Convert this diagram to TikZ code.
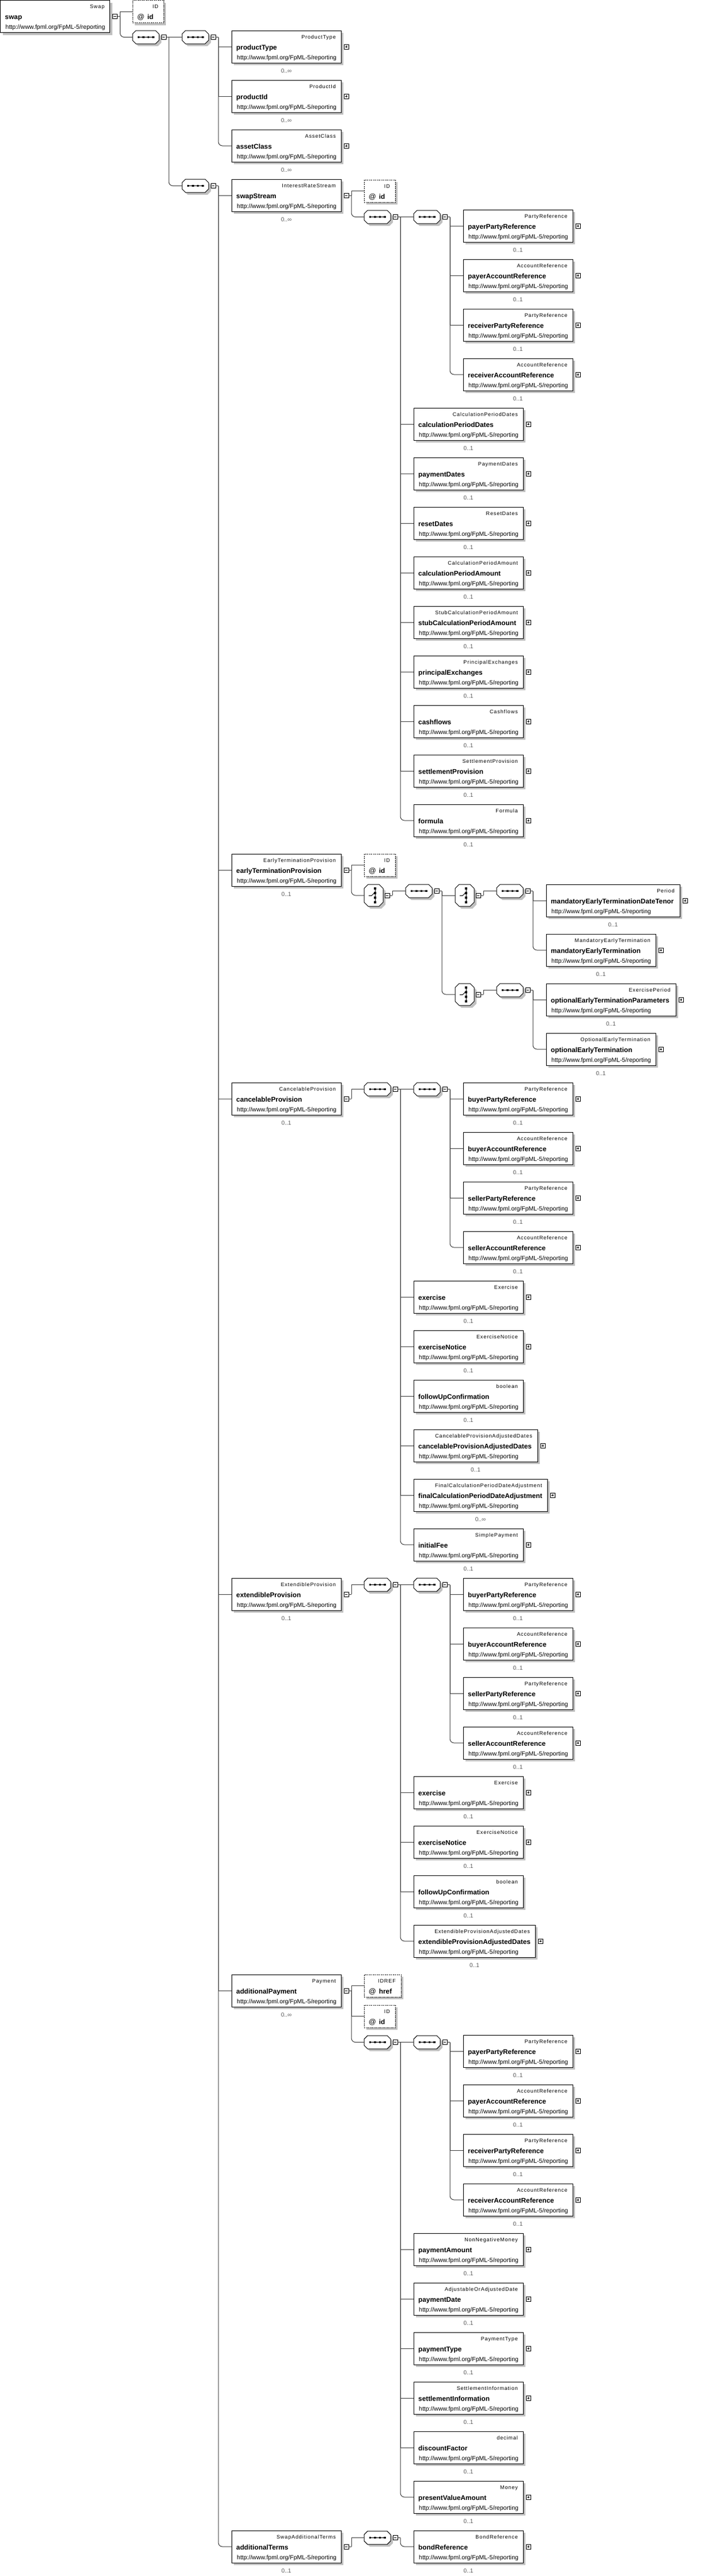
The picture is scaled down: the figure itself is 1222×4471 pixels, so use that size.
\documentclass[tikz,border=0pt]{standalone}
\usepackage{fontspec}
\setmainfont{Liberation Sans}
\newfontfamily\tyfont[LetterSpace=10]{Liberation Sans}
\definecolor{shadowc}{RGB}{192,192,192}
\definecolor{cardc}{RGB}{90,90,90}
\definecolor{linec}{RGB}{60,60,60}
\tikzset{
  ebox/.style={draw=black, line width=1pt, fill=white, inner sep=0pt, outer sep=0pt, minimum height=56pt, anchor=north west},
  abox/.style={draw=black, line width=1pt, fill=white, inner sep=0pt, outer sep=0pt, minimum height=39pt, anchor=north west, dash pattern=on 2pt off 1.5pt},
  tytext/.style={inner sep=0pt, anchor=base east, font=\tyfont\fontsize{9}{10}\selectfont},
  nmtext/.style={inner sep=0pt, anchor=base west, font=\bfseries\fontsize{11.8}{13}\selectfont},
  urltext/.style={inner sep=0pt, anchor=base west, font=\fontsize{10.5}{12}\selectfont},
  cardtext/.style={inner sep=0pt, anchor=base, text=cardc, font=\fontsize{10}{12}\selectfont},
  mbtn/.style={draw=black, line width=0.8pt, fill=white, minimum size=8pt, inner sep=0pt, outer sep=0pt,
    path picture={\draw[line width=0.8pt] ([xshift=1.8pt]path picture bounding box.west) -- ([xshift=-1.8pt]path picture bounding box.east);}},
  pbtn/.style={draw=black, line width=0.8pt, fill=white, minimum size=8pt, inner sep=0pt, outer sep=0pt,
    path picture={\draw[line width=0.8pt] ([xshift=1.8pt]path picture bounding box.west) -- ([xshift=-1.8pt]path picture bounding box.east);
                  \draw[line width=0.8pt] ([yshift=1.8pt]path picture bounding box.south) -- ([yshift=-1.8pt]path picture bounding box.north);}},
  conn/.style={draw=linec, line width=1pt},
  hub/.style={inner sep=0pt, outer sep=0pt, minimum width=46pt, minimum height=23pt, anchor=north west},
  chub/.style={inner sep=0pt, outer sep=0pt, minimum width=33pt, minimum height=38pt, anchor=north west},
}
\newcommand\urltxt{http://www.fpml.org/FpML-5/reporting}
% id, x, y, w, type, name, card, btn (p/m/n)
\newcommand\elem[8]{%
  \fill[shadowc] (#2+4,#3+4) rectangle ++(#4,56);
  \node[ebox, minimum width=#4pt] (#1) at (#2,#3) {};
  \node[tytext] (#1-t) at ([shift={(-9,14)}]#1.north east) {#5};
  \node[nmtext] (#1-n) at ([shift={(8,33)}]#1.north west) {#6};
  \node[urltext] (#1-u) at ([shift={(9,50)}]#1.north west) {\urltxt};
  \if\relax\detokenize{#7}\relax\else
    \node[cardtext] (#1-c) at ([shift={(0,73)}]#1.north) {#7};
  \fi
  \if n#8\else
    \node[#8btn] (#1-b) at ([shift={(9,28)}]#1.north east) {};
  \fi
}
% id, x, y, w, type, name
\newcommand\attr[6]{%
  \fill[shadowc] (#2+4,#3+4) rectangle ++(#4,39);
  \node[abox, minimum width=#4pt] (#1) at (#2,#3) {};
  \node[tytext] (#1-t) at ([shift={(-9,14)}]#1.north east) {#5};
  \node[nmtext] (#1-n) at ([shift={(8,33)}]#1.north west) {{\mdseries\fontsize{12.5}{13}\selectfont @}\hspace{5pt}#6};
}
% sequence compositor: id, x, y
\newcommand\seqn[3]{%
  \begin{scope}[shift={(#2,#3)}]
    \fill[shadowc] (10,4) -- (44,4) -- (50,10) -- (50,21) -- (44,27) -- (10,27) -- (4,21) -- (4,10) -- cycle;
    \filldraw[draw=black, fill=white, line width=1pt] (6,0) -- (40,0) -- (46,6) -- (46,17) -- (40,23) -- (6,23) -- (0,17) -- (0,6) -- cycle;
    \draw[line width=1pt] (10.5,11.5) -- (36,11.5);
    \foreach \dx in {10.5,19,27.5,36} {\fill (\dx-1.75,11.5-1.75) rectangle ++(3.5,3.5);}
  \end{scope}
  \node[hub] (#1) at (#2,#3) {};
  \node[mbtn] (#1-b) at (#2+54,#3+11.5) {};
}
% choice compositor: id, x, y
\newcommand\chn[3]{%
  \begin{scope}[shift={(#2,#3)}]
    \fill[shadowc] (11,4) -- (30,4) -- (37,11) -- (37,35) -- (30,42) -- (11,42) -- (4,35) -- (4,11) -- cycle;
    \filldraw[draw=black, fill=white, line width=1pt] (7,0) -- (26,0) -- (33,7) -- (33,31) -- (26,38) -- (7,38) -- (0,31) -- (0,7) -- cycle;
    \draw[line width=1pt] (19,7) -- (19,31);
    \foreach \dy in {7,15,23,31} {\fill (19-1.75,\dy-1.75) rectangle ++(3.5,3.5);}
    \draw[line width=1pt] (8,19.5) -- (13,19.5) -- (18.5,14);
  \end{scope}
  \node[chub] (#1) at (#2,#3) {};
  \node[mbtn] (#1-b) at (#2+40,#3+19) {};
}
\newcommand\jn[1]{\draw[conn] (#1-b.east) -- ++(5,0) coordinate (#1-j);}
\newcommand\lk[2]{\draw[conn] (#1-j) |- (#2.west);}
\newcommand\lkr[2]{\draw[conn,rounded corners=7pt] (#1-j) |- (#2.west);}

\begin{document}
\begin{tikzpicture}[x=1pt,y=-1pt]
\fill[white] (0,0) rectangle (1222,4471);
\useasboundingbox (0,0) rectangle (1222,4471);

% ---------- root ----------
\elem{swap}{0.5}{0.5}{190}{Swap}{swap}{}{m}
\attr{swapid}{230}{0.5}{54}{ID}{id}
\seqn{sA}{230}{53}
\seqn{sB}{316}{53}
\elem{productType}{402}{53}{190}{ProductType}{productType}{0..∞}{p}
\elem{productId}{402}{139}{190}{ProductId}{productId}{0..∞}{p}
\elem{assetClass}{402}{225}{190}{AssetClass}{assetClass}{0..∞}{p}
\seqn{sC}{316}{311}

% ---------- swapStream ----------
\elem{swapStream}{402}{311}{190}{InterestRateStream}{swapStream}{0..∞}{m}
\attr{ssid}{632}{312}{54}{ID}{id}
\seqn{sD}{632}{365}
\seqn{sE}{718}{365}
\elem{ssPP}{804}{364}{190}{PartyReference}{payerPartyReference}{0..1}{p}
\elem{ssPA}{804}{450}{190}{AccountReference}{payerAccountReference}{0..1}{p}
\elem{ssRP}{804}{536}{190}{PartyReference}{receiverPartyReference}{0..1}{p}
\elem{ssRA}{804}{622}{190}{AccountReference}{receiverAccountReference}{0..1}{p}
\elem{calcPD}{718}{708}{190}{CalculationPeriodDates}{calculationPeriodDates}{0..1}{p}
\elem{payD}{718}{794}{190}{PaymentDates}{paymentDates}{0..1}{p}
\elem{resetD}{718}{880}{190}{ResetDates}{resetDates}{0..1}{p}
\elem{calcPA}{718}{966}{190}{CalculationPeriodAmount}{calculationPeriodAmount}{0..1}{p}
\elem{stubCPA}{718}{1052}{190}{StubCalculationPeriodAmount}{stubCalculationPeriodAmount}{0..1}{p}
\elem{prinEx}{718}{1138}{190}{PrincipalExchanges}{principalExchanges}{0..1}{p}
\elem{cashf}{718}{1224}{190}{Cashflows}{cashflows}{0..1}{p}
\elem{settP}{718}{1310}{190}{SettlementProvision}{settlementProvision}{0..1}{p}
\elem{formula}{718}{1396}{190}{Formula}{formula}{0..1}{p}

% ---------- earlyTerminationProvision ----------
\elem{etp}{402}{1482}{190}{EarlyTerminationProvision}{earlyTerminationProvision}{0..1}{m}
\attr{etpid}{632}{1482}{54}{ID}{id}
\chn{cA}{632}{1535}
\seqn{sF}{704}{1535}
\chn{cB}{790}{1535}
\chn{cC}{790}{1707}
\seqn{sG}{862}{1535}
\seqn{sH}{862}{1707}
\elem{metdt}{948}{1535}{232}{Period}{mandatoryEarlyTerminationDateTenor}{0..1}{p}
\elem{met}{948}{1621}{190}{MandatoryEarlyTermination}{mandatoryEarlyTermination}{0..1}{p}
\elem{oetp}{948}{1707}{225}{ExercisePeriod}{optionalEarlyTerminationParameters}{0..1}{p}
\elem{oet}{948}{1793}{190}{OptionalEarlyTermination}{optionalEarlyTermination}{0..1}{p}

% ---------- cancelableProvision ----------
\elem{cp}{402}{1879}{190}{CancelableProvision}{cancelableProvision}{0..1}{m}
\seqn{sI}{632}{1879}
\seqn{sJ}{718}{1879}
\elem{cpBP}{804}{1879}{190}{PartyReference}{buyerPartyReference}{0..1}{p}
\elem{cpBA}{804}{1965}{190}{AccountReference}{buyerAccountReference}{0..1}{p}
\elem{cpSP}{804}{2051}{190}{PartyReference}{sellerPartyReference}{0..1}{p}
\elem{cpSA}{804}{2137}{190}{AccountReference}{sellerAccountReference}{0..1}{p}
\elem{cpEx}{718}{2223}{190}{Exercise}{exercise}{0..1}{p}
\elem{cpExN}{718}{2309}{190}{ExerciseNotice}{exerciseNotice}{0..1}{p}
\elem{cpFU}{718}{2395}{190}{boolean}{followUpConfirmation}{0..1}{n}
\elem{cpAD}{718}{2481}{215}{CancelableProvisionAdjustedDates}{cancelableProvisionAdjustedDates}{0..1}{p}
\elem{cpFC}{718}{2567}{232}{FinalCalculationPeriodDateAdjustment}{finalCalculationPeriodDateAdjustment}{0..∞}{p}
\elem{cpIF}{718}{2653}{190}{SimplePayment}{initialFee}{0..1}{p}

% ---------- extendibleProvision ----------
\elem{ep}{402}{2739}{190}{ExtendibleProvision}{extendibleProvision}{0..1}{m}
\seqn{sK}{632}{2739}
\seqn{sL}{718}{2739}
\elem{epBP}{804}{2739}{190}{PartyReference}{buyerPartyReference}{0..1}{p}
\elem{epBA}{804}{2825}{190}{AccountReference}{buyerAccountReference}{0..1}{p}
\elem{epSP}{804}{2911}{190}{PartyReference}{sellerPartyReference}{0..1}{p}
\elem{epSA}{804}{2997}{190}{AccountReference}{sellerAccountReference}{0..1}{p}
\elem{epEx}{718}{3083}{190}{Exercise}{exercise}{0..1}{p}
\elem{epExN}{718}{3169}{190}{ExerciseNotice}{exerciseNotice}{0..1}{p}
\elem{epFU}{718}{3255}{190}{boolean}{followUpConfirmation}{0..1}{n}
\elem{epAD}{718}{3341}{211}{ExtendibleProvisionAdjustedDates}{extendibleProvisionAdjustedDates}{0..1}{p}

% ---------- additionalPayment ----------
\elem{ap}{402}{3427}{190}{Payment}{additionalPayment}{0..∞}{m}
\attr{aphref}{632}{3427}{64}{IDREF}{href}
\attr{apid}{632}{3480}{54}{ID}{id}
\seqn{sM}{632}{3533}
\seqn{sN}{718}{3533}
\elem{apPP}{804}{3532}{190}{PartyReference}{payerPartyReference}{0..1}{p}
\elem{apPA}{804}{3618}{190}{AccountReference}{payerAccountReference}{0..1}{p}
\elem{apRP}{804}{3704}{190}{PartyReference}{receiverPartyReference}{0..1}{p}
\elem{apRA}{804}{3790}{190}{AccountReference}{receiverAccountReference}{0..1}{p}
\elem{apAmt}{718}{3876}{190}{NonNegativeMoney}{paymentAmount}{0..1}{p}
\elem{apDate}{718}{3962}{190}{AdjustableOrAdjustedDate}{paymentDate}{0..1}{p}
\elem{apType}{718}{4048}{190}{PaymentType}{paymentType}{0..1}{p}
\elem{apSett}{718}{4134}{190}{SettlementInformation}{settlementInformation}{0..1}{p}
\elem{apDisc}{718}{4220}{190}{decimal}{discountFactor}{0..1}{n}
\elem{apPV}{718}{4306}{190}{Money}{presentValueAmount}{0..1}{p}

% ---------- additionalTerms ----------
\elem{addT}{402}{4392}{190}{SwapAdditionalTerms}{additionalTerms}{0..1}{m}
\seqn{sO}{632}{4393}
\elem{bondRef}{718}{4392}{190}{BondReference}{bondReference}{0..1}{p}

% ---------- connectors ----------
\jn{swap} \lk{swap}{swapid} \lkr{swap}{sA}
\jn{sA} \lk{sA}{sB} \lkr{sA}{sC}
\jn{sB} \lk{sB}{productType} \lk{sB}{productId} \lkr{sB}{assetClass}
\jn{sC} \lk{sC}{swapStream} \lk{sC}{etp} \lk{sC}{cp} \lk{sC}{ep} \lk{sC}{ap} \lkr{sC}{addT}
\jn{swapStream} \lk{swapStream}{ssid} \lkr{swapStream}{sD}
\jn{sD} \lk{sD}{sE} \lk{sD}{calcPD} \lk{sD}{payD} \lk{sD}{resetD} \lk{sD}{calcPA}
  \lk{sD}{stubCPA} \lk{sD}{prinEx} \lk{sD}{cashf} \lk{sD}{settP} \lkr{sD}{formula}
\jn{sE} \lk{sE}{ssPP} \lk{sE}{ssPA} \lk{sE}{ssRP} \lkr{sE}{ssRA}
\jn{etp} \lk{etp}{etpid} \lkr{etp}{cA}
\jn{cA} \lk{cA}{sF}
\jn{sF} \lk{sF}{cB} \lkr{sF}{cC}
\jn{cB} \lk{cB}{sG}
\jn{cC} \lk{cC}{sH}
\jn{sG} \lk{sG}{metdt} \lkr{sG}{met}
\jn{sH} \lk{sH}{oetp} \lkr{sH}{oet}
\jn{cp} \lk{cp}{sI}
\jn{sI} \lk{sI}{sJ} \lk{sI}{cpEx} \lk{sI}{cpExN} \lk{sI}{cpFU} \lk{sI}{cpAD} \lk{sI}{cpFC} \lkr{sI}{cpIF}
\jn{sJ} \lk{sJ}{cpBP} \lk{sJ}{cpBA} \lk{sJ}{cpSP} \lkr{sJ}{cpSA}
\jn{ep} \lk{ep}{sK}
\jn{sK} \lk{sK}{sL} \lk{sK}{epEx} \lk{sK}{epExN} \lk{sK}{epFU} \lkr{sK}{epAD}
\jn{sL} \lk{sL}{epBP} \lk{sL}{epBA} \lk{sL}{epSP} \lkr{sL}{epSA}
\jn{ap} \lk{ap}{aphref} \lk{ap}{apid} \lkr{ap}{sM}
\jn{sM} \lk{sM}{sN} \lk{sM}{apAmt} \lk{sM}{apDate} \lk{sM}{apType} \lk{sM}{apSett} \lk{sM}{apDisc} \lkr{sM}{apPV}
\jn{sN} \lk{sN}{apPP} \lk{sN}{apPA} \lk{sN}{apRP} \lkr{sN}{apRA}
\jn{addT} \lk{addT}{sO}
\jn{sO} \lkr{sO}{bondRef}
\end{tikzpicture}
\end{document}
